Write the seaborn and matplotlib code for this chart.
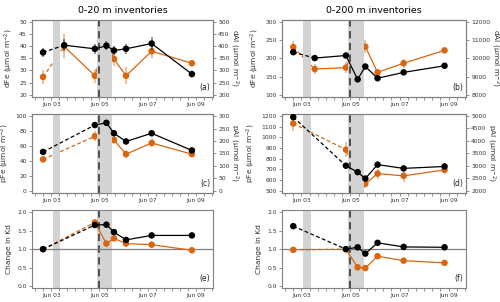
import seaborn as sns
import matplotlib.pyplot as plt
import matplotlib.dates as mdates
import pandas as pd

# sampling times (same for all panels)
times = pd.to_datetime(['2020-06-02 16:00', '2020-06-03 13:00', '2020-06-04 19:30',
                        '2020-06-05 07:00', '2020-06-05 14:30', '2020-06-06 02:30',
                        '2020-06-07 04:00', '2020-06-08 20:00'])
t7 = times.delete(1)

# 0-20 m
dfe_20 = [37.5, 40.5, 39.0, 40.3, 38.3, 39.0, 41.2, 28.5]
dfe_20_err = [2.0, 2.5, 2.0, 2.0, 2.0, 2.0, 2.5, 0.8]
dal_20 = [273, 400, 278, 428, 348, 278, 380, 330]
dal_20_err = [30, 50, 30, 50, 30, 35, 30, 8]
pfe_20 = [52, 88, 91, 77, 66, 77, 54]
pfe_20_err = [2, 4, 4, 3, 2, 3, 2]
pal_20 = [126, 219, 222, 204, 147, 192, 147]
pal_20_err = [12, 20, 20, 18, 15, 18, 12]
kd_fe_20 = [1.0, 1.65, 1.66, 1.46, 1.25, 1.37, 1.37]
kd_al_20 = [1.0, 1.72, 1.15, 1.29, 1.15, 1.12, 0.97]

# 0-200 m
dfe_200 = [217, 201, 208, 143, 178, 146, 162, 180]
dfe_200_err = [5, 5, 5, 5, 5, 5, 5, 5]
dal_200 = [10620, 9420, 9500, 10980, 10640, 9240, 9740, 10440]
dal_200_err = [350, 250, 300, 400, 350, 200, 250, 150]
pfe_200 = [1190, 735, 675, 615, 745, 710, 728]
pfe_200_err = [10, 10, 15, 10, 10, 10, 15]
pal_200 = [4700, 3650, 2580, 2280, 2690, 2600, 2840]
pal_200_err = [300, 300, 200, 150, 200, 250, 150]
kd_fe_200 = [1.62, 1.0, 1.05, 0.88, 1.17, 1.06, 1.05]
kd_al_200 = [0.98, 1.0, 0.51, 0.49, 0.81, 0.69, 0.63]

black = '#000000'
orange = '#d9650f'
grey = '#808080'

plt.rcParams['font.family'] = ['DejaVu Sans']
fig = plt.figure(figsize=(5, 3.02), dpi=100)

col_x = [(0.064, 0.362), (0.564, 0.368)]
row_y = [(0.679, 0.255), (0.361, 0.262), (0.046, 0.258)]


def style(ax):
    for s in ax.spines.values():
        s.set_color(grey)
        s.set_linewidth(0.8)
    ax.tick_params(colors=grey, labelcolor='#333333', labelsize=4.3, length=2.5, width=0.6, pad=1.2)
    ax.tick_params(axis='x', which='minor', colors=grey, length=2, width=0.6)


def series(ax, t, y, err, color, zorder=3):
    df = pd.DataFrame({'t': t, 'y': y})
    ax.errorbar(df['t'], df['y'], yerr=err, fmt='none', ecolor=color, alpha=0.45, elinewidth=1.3, zorder=zorder)
    sns.lineplot(data=df.iloc[:2], x='t', y='y', ax=ax, color=color, lw=0.9, linestyle=(0, (3, 2)), zorder=zorder)
    sns.lineplot(data=df.iloc[1:], x='t', y='y', ax=ax, color=color, lw=0.9, zorder=zorder)
    sns.scatterplot(data=df, x='t', y='y', ax=ax, color=color, s=22, edgecolor='none', zorder=zorder + 1)
    ax.set_xlabel('')
    ax.set_ylabel('')


def base(ax):
    ax.set_xlim(pd.Timestamp('2020-06-02 05:00'), pd.Timestamp('2020-06-09 17:00'))
    ax.axvspan(pd.Timestamp('2020-06-03 02:00'), pd.Timestamp('2020-06-03 09:00'), color='#d3d3d3', lw=0, zorder=0)
    ax.axvspan(pd.Timestamp('2020-06-04 22:00'), pd.Timestamp('2020-06-05 13:00'), color='#d3d3d3', lw=0, zorder=0)
    ax.axvline(pd.Timestamp('2020-06-05 00:00'), color='#444444', lw=1.3, linestyle=(0, (4, 2.5)), zorder=1)
    ax.xaxis.set_major_locator(mdates.DayLocator(bymonthday=[3, 5, 7, 9]))
    ax.xaxis.set_minor_locator(mdates.HourLocator(byhour=[0, 8, 16]))
    ax.xaxis.set_major_formatter(mdates.DateFormatter('%b %d'))


panels = [
    # (row, col, left data, left err, right data, right err, times, ylims, ticks, labels, tag)
    (0, 0, dfe_20, dfe_20_err, dal_20, dal_20_err, times, (19, 51), range(20, 51, 5), (190, 510), range(200, 501, 50),
     'dFe (µmol m$^{-2}$)', 'dAl (µmol m$^{-2}$)', '(a)'),
    (1, 0, pfe_20, pfe_20_err, pal_20, pal_20_err, t7, (-3, 103), range(0, 101, 20), (-9, 309), range(0, 301, 50),
     'pFe (µmol m$^{-2}$)', 'pAl (µmol m$^{-2}$)', '(c)'),
    (0, 1, dfe_200, dfe_200_err, dal_200, dal_200_err, times, (95, 305), range(100, 301, 50), (7900, 12100),
     range(8000, 12001, 1000), 'dFe (µmol m$^{-2}$)', 'dAl (µmol m$^{-2}$)', '(b)'),
    (1, 1, pfe_200, pfe_200_err, pal_200, pal_200_err, t7, (480, 1220), range(500, 1201, 100), (1914, 5086),
     range(2000, 5001, 500), 'pFe (µmol m$^{-2}$)', 'pAl (µmol m$^{-2}$)', '(d)'),
]

for r, c, ly, le, ry, re, tt, ylim, yt, rylim, ryt, ylab, rylab, tag in panels:
    x0, w = col_x[c]
    y0, h = row_y[r]
    ax = fig.add_axes([x0, y0, w, h])
    ax2 = ax.twinx()
    ax.set_zorder(ax2.get_zorder() + 1)
    ax.patch.set_visible(False)
    base(ax)
    series(ax2, tt, ry, re, orange)
    series(ax, tt, ly, le, black)
    ax.set_ylim(*ylim)
    ax.set_yticks(list(yt))
    ax2.set_ylim(*rylim)
    ax2.set_yticks(list(ryt))
    ax.set_ylabel(ylab, fontsize=5.4, color='#333333', labelpad=3)
    ax2.set_ylabel(rylab, fontsize=5.4, color='#333333', rotation=270, labelpad=8)
    style(ax)
    style(ax2)
    ax.text(0.985, 0.06, tag, transform=ax.transAxes, ha='right', va='bottom', fontsize=5.5, color='#222222')
    if r == 0:
        ax.set_title('0-20 m inventories' if c == 0 else '0-200 m inventories', fontsize=6.8, pad=5)

for c, kfe, kal, tag in [(0, kd_fe_20, kd_al_20, '(e)'), (1, kd_fe_200, kd_al_200, '(f)')]:
    x0, w = col_x[c]
    y0, h = row_y[2]
    ax = fig.add_axes([x0, y0, w, h])
    base(ax)
    ax.axhline(1.0, color=grey, lw=0.9, zorder=1)
    series(ax, t7, kal, [0] * 7, orange)
    series(ax, t7, kfe, [0] * 7, black, zorder=5)
    ax.set_ylim(-0.05, 2.05)
    ax.set_yticks([0, 0.5, 1.0, 1.5, 2.0])
    ax.set_ylabel('Change in Kd', fontsize=5.4, color='#333333', labelpad=4)
    style(ax)
    ax.text(0.985, 0.06, tag, transform=ax.transAxes, ha='right', va='bottom', fontsize=5.5, color='#222222')

fig.savefig('out.png', dpi=100)
